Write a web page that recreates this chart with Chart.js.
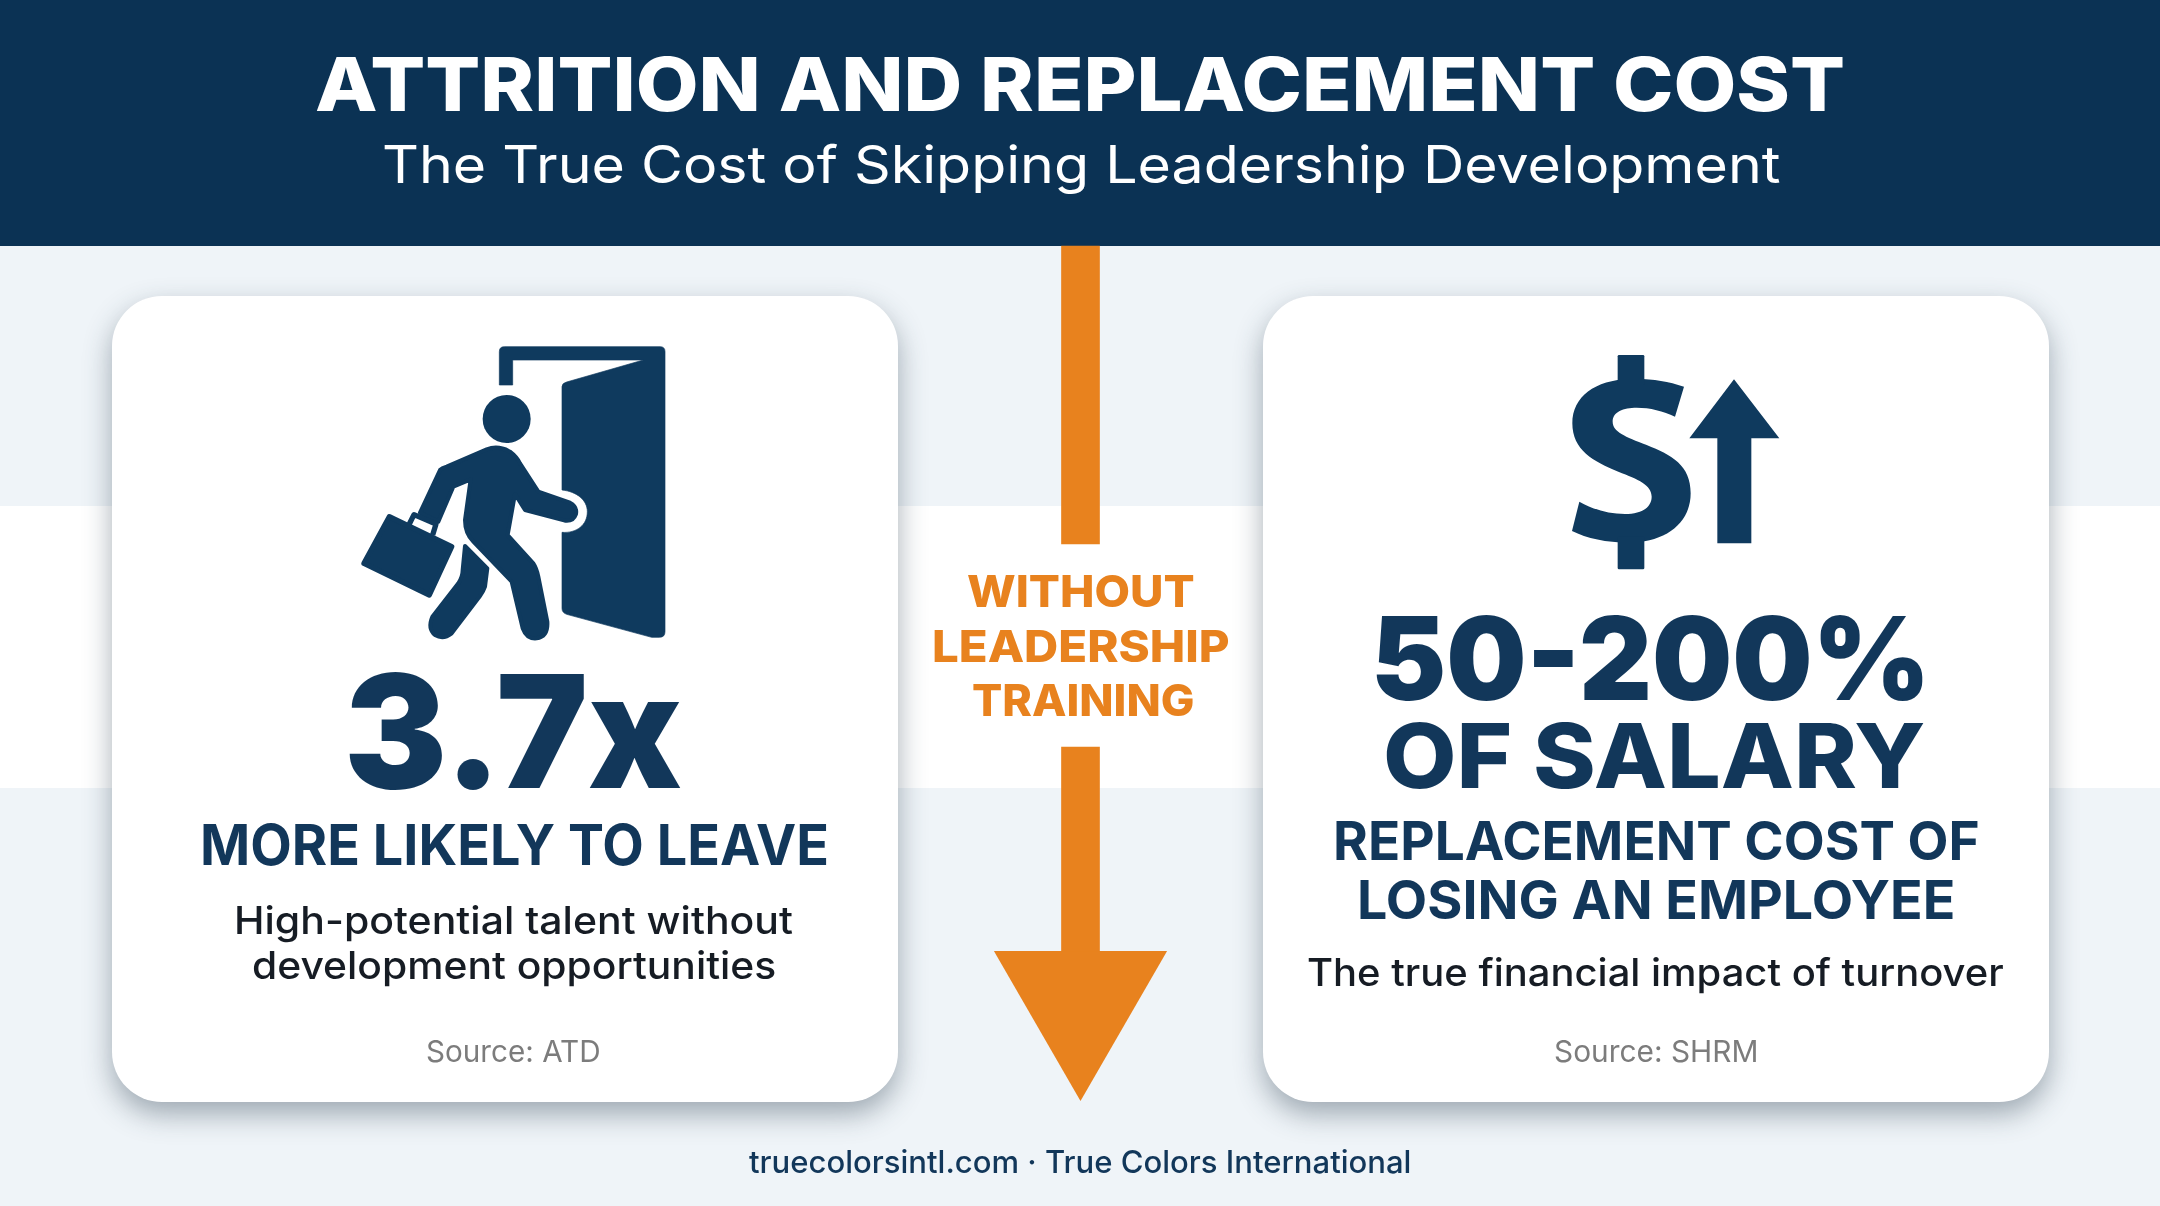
<!DOCTYPE html>
<html>
<head>
<meta charset="utf-8">
<title>Attrition and Replacement Cost</title>
<script src="https://cdn.jsdelivr.net/npm/chart.js@4"></script>
<style>
    html, body { margin: 0; padding: 0; }
    body { position: relative; width: 2160px; height: 1206px; overflow: hidden; background: #eff4f8; font-family: Inter, sans-serif; }
    #band { position: absolute; left: 0; top: 506px; width: 2160px; height: 282px; background: #fff; }
    #header { position: absolute; left: 0; top: 0; width: 2160px; height: 246px; background: #0b3254; }
    .card { position: absolute; top: 296px; width: 786px; height: 806px; background: #fff; border-radius: 50px; box-shadow: 0 12px 28px rgba(45, 65, 80, .42); }
    #cardLeft { left: 112px; }
    #cardRight { left: 1263px; }
    svg { position: absolute; }
    svg * { fill: #0f3a5e; stroke: #0f3a5e; stroke-width: 12; stroke-linejoin: round; }
    #myChart { position: absolute; left: 0; top: 0; }
    .txt { position: absolute; white-space: nowrap; line-height: 1; transform-origin: 0 0; }
</style>
</head>
<body>
<div id="band"></div>
<div id="header"></div>
<div class="card" id="cardLeft"></div>
<div class="card" id="cardRight"></div>

<svg style="left:340px;top:320px" width="360" height="340" viewBox="0 0 1080 1020">
    <path style="stroke-width:2" d="M478 195 V95 Q478 80 493 80 H960 Q975 80 975 95 V935 Q975 952 958 952 H935 L680 883 Q666 878 666 865 V637 C710 640 742 615 742 575 C742 540 710 515 666 510 V200 Q666 190 680 186 L910 120 H518 V195 Z"/>
    <circle style="stroke-width:0" cx="500" cy="297" r="72"/>
    <path d="M440 388 Q475 375 510 395 Q530 410 540 430 L595 515 L690 548 Q712 560 708 582 Q700 605 675 602 L555 570 L525 522 L503 645 L580 730 Q590 745 595 770 L622 905 Q625 950 590 955 Q560 958 548 925 L515 785 L400 665 Q375 640 375 600 L392 478 L340 500 L295 605 L240 578 L300 450 Q305 445 320 440 Z"/>
    <path d="M375 678 L442 745 L435 800 Q430 815 420 828 L335 940 Q310 960 285 945 Q262 925 277 890 L355 790 Q368 770 368 750 Z"/>
    <path style="stroke-width:16" d="M148 590 L335 680 L268 825 L72 730 Z"/>
    <path style="fill:none;stroke-width:16" d="M208 612 L222 584 L288 612 L278 645"/>
</svg>

<svg style="left:1540px;top:340px" width="270" height="240" viewBox="0 0 810 720">
    <path style="stroke-width:0" d="M432 140 C380 122 330 115 270 117 C165 120 97 170 97 250 C97 330 160 365 235 395 C295 418 335 435 335 470 C335 505 300 522 255 522 C205 522 160 508 118 485 L96 573 C140 595 200 608 265 608 C375 608 452 550 452 460 C452 375 395 345 320 315 C255 290 218 275 218 245 C218 215 250 203 290 203 C330 203 370 213 405 230 Z"/>
    <rect style="stroke-width:0" x="233" y="45" width="80" height="90" rx="4"/>
    <rect style="stroke-width:0" x="233" y="590" width="80" height="98" rx="4"/>
    <path style="stroke-width:0" d="M582 118 L718 295 H634 V610 H532 V295 H448 Z"/>
</svg>

<canvas id="myChart" width="2160" height="1206"></canvas>

<script>
// the arrow between the cards (y axis runs down the page)
const categories = ['WITHOUT LEADERSHIP TRAINING'];
const arrowShaftTop = [[246, 544]];
const arrowShaftBottom = [[747, 951]];
const arrowHead = [1001];

const titleLines = ['ATTRITION AND REPLACEMENT COST', 'The True Cost of Skipping Leadership Development'];
const centerLines = ['WITHOUT', 'LEADERSHIP', 'TRAINING'];
const leftLines = ['3.7x', 'MORE LIKELY TO LEAVE', 'High-potential talent without', 'development opportunities', 'Source: ATD'];
const rightLines = ['50-200%', 'OF SALARY', 'REPLACEMENT COST OF', 'LOSING AN EMPLOYEE', 'The true financial impact of turnover', 'Source: SHRM'];
const footerLines = ['truecolorsintl.com · True Colors International'];

const navy = '#12375a';
const ink = '#161c24';
const orange = '#e8821e';

// x from, x to, baseline, font size, weight, colour
const titleStyle = [[315, 1845, 111, 74, 800, '#fff'], [382, 1780, 184, 52, 400, '#fff']];
const centerStyle = [[967, 1195, 607, 44, 800, orange], [932, 1230, 662, 44, 800, orange], [972, 1194, 716, 44, 800, orange]];
const leftStyle = [
    [344, 682, 789, 157, 900, navy],
    [200, 829, 865, 56, 700, navy],
    [234, 793, 934, 38, 450, ink],
    [252, 776, 979, 38, 450, ink],
    [426, 601, 1062, 30, 400, '#7c7c7c'],
];
const rightStyle = [
    [1371, 1931, 700, 115, 900, navy],
    [1383, 1926, 788, 89, 800, navy],
    [1333, 1980, 861, 54, 700, navy],
    [1357, 1955, 920, 54, 700, navy],
    [1307, 2004, 986, 38, 450, ink],
    [1554, 1758, 1062, 30, 400, '#7c7c7c'],
];
const footerStyle = [[749, 1411, 1173, 31, 500, navy]];

function addText(lines, styles) {
    lines.forEach((line, i) => {
        const [x0, x1, base, size, weight, color] = styles[i];
        const el = document.createElement('div');
        el.className = 'txt';
        el.textContent = line;
        el.style.left = x0 + 'px';
        el.style.top = (base - size * 0.8636) + 'px';
        el.style.fontSize = size + 'px';
        el.style.fontWeight = weight;
        el.style.color = color;
        document.body.appendChild(el);
        // Inter is narrower than the original face, stretch to the measured width
        el.style.transform = 'scaleX(' + ((x1 - x0) / el.offsetWidth) + ')';
    });
}
addText(titleLines, titleStyle);
addText(centerLines, centerStyle);
addText(leftLines, leftStyle);
addText(rightLines, rightStyle);
addText(footerLines, footerStyle);

const ctx = document.getElementById('myChart');

new Chart(ctx, {
    type: 'bar',
    data: {
        labels: categories,
        datasets: [
            {
                label: 'shaft top',
                data: arrowShaftTop,
                grouped: false,
                barThickness: 38,
                backgroundColor: orange,
            },
            {
                label: 'shaft bottom',
                data: arrowShaftBottom,
                grouped: false,
                barThickness: 38,
                backgroundColor: orange,
            },
            {
                type: 'line',
                label: 'head',
                data: arrowHead,
                showLine: false,
                pointStyle: 'triangle',
                pointRadius: 100,
                rotation: 180,
                borderWidth: 0,
                backgroundColor: orange,
            },
        ]
    },
    options: {
        responsive: false,
        animation: false,
        layout: { autoPadding: false, padding: { left: 1 } },
        plugins: {
            legend: { display: false },
            title: { display: false },
            tooltip: { enabled: false },
        },
        scales: {
            x: { display: false },
            y: {
                display: false,
                reverse: true,
                min: 0,
                max: 1206,
            },
        },
    },
});
</script>
</body>
</html>
